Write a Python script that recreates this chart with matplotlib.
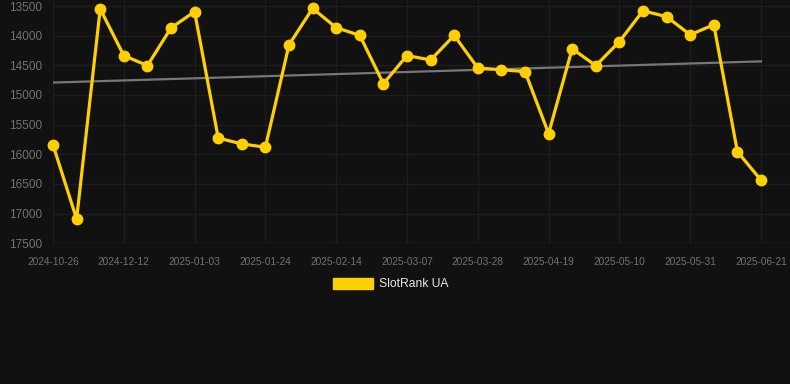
import matplotlib
matplotlib.use("Agg")
import matplotlib.pyplot as plt
from matplotlib.patches import Patch
import numpy as np

plt.rcParams['font.family'] = ['Liberation Sans', 'DejaVu Sans']

# Data
dates = ["2024-10-26", "2024-11-03", "2024-11-20", "2024-12-12", "2024-12-19",
         "2024-12-26", "2025-01-03", "2025-01-10", "2025-01-17", "2025-01-24",
         "2025-01-31", "2025-02-07", "2025-02-14", "2025-02-21", "2025-02-28",
         "2025-03-07", "2025-03-14", "2025-03-21", "2025-03-28", "2025-04-04",
         "2025-04-11", "2025-04-19", "2025-04-26", "2025-05-03", "2025-05-10",
         "2025-05-17", "2025-05-24", "2025-05-31", "2025-06-07", "2025-06-14",
         "2025-06-21"]
rank = [15840, 17090, 13550, 14335, 14505, 13870, 13595, 15725, 15825, 15880,
        14155, 13540, 13865, 13995, 14810, 14335, 14410, 13995, 14545, 14575,
        14605, 15650, 14220, 14505, 14100, 13580, 13680, 13985, 13815, 15955,
        16435]
series_name = "SlotRank UA"

bg = "#111111"
gold = "#FFD000"
grid_c = "#1d1d1d"
tick_c = "#727272"

fig = plt.figure(figsize=(7.9, 3.84), dpi=100, facecolor=bg)
ax = fig.add_axes([53 / 790, 1 - 243.3 / 384, (790 - 53) / 790, 243.3 / 384])
ax.set_facecolor(bg)

x = np.arange(len(rank))
coef = np.polyfit(x, rank, 1)
ax.plot(x, np.polyval(coef, x), color="#777777", linewidth=1.6, zorder=2)
ax.plot(x, rank, color=gold, linewidth=2.3, marker="o", markersize=7.5,
        zorder=3, clip_on=False)

ax.set_xlim(0, 30 + (790 - 761) / 23.6)
ax.set_ylim(17500, 13500 - 6 / 0.0593)
ax.set_yticks(np.arange(13500, 17501, 500))
ax.set_xticks(x[::3])
ax.set_xticklabels(dates[::3])

ax.grid(True, color=grid_c, linewidth=1)
ax.axhline(17500, color="#262626", linewidth=1, zorder=1)
ax.set_axisbelow(True)
for s in ax.spines.values():
    s.set_visible(False)
ax.tick_params(axis="y", length=0, pad=8, labelsize=8.5, labelcolor=tick_c)
ax.tick_params(axis="x", length=0, pad=10, labelsize=7.3, labelcolor=tick_c)

handle = Patch(facecolor=gold, edgecolor=gold)
fig.legend([handle], [series_name], loc="center", bbox_to_anchor=(0.495, 1 - 284 / 384),
           frameon=False, fontsize=8.7, labelcolor="#e6e6e6",
           handlelength=3.3, handleheight=1.1, handletextpad=0.5)

fig.savefig("out.png", dpi=100, facecolor=bg)
